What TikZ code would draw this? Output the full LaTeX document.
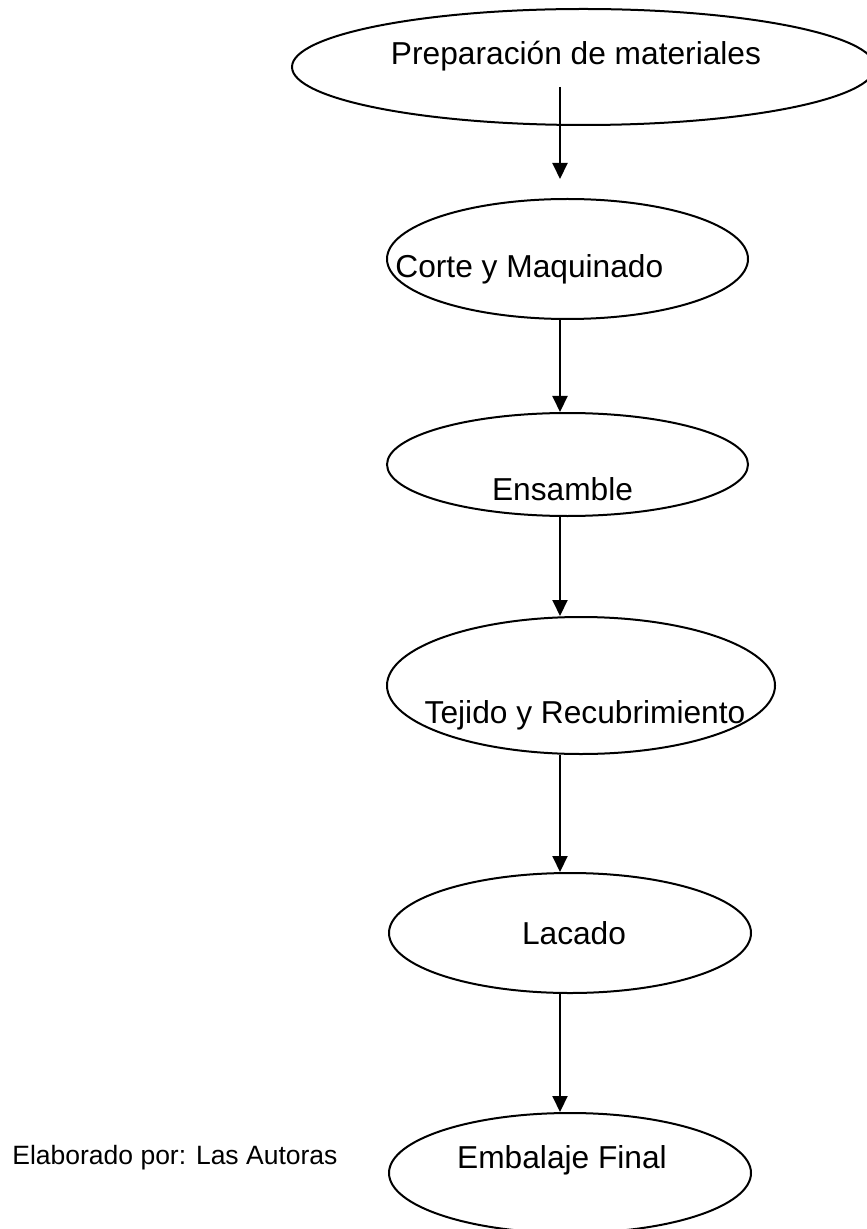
\documentclass[tikz,border=0pt]{standalone}
\usepackage{fontspec}
\setmainfont{Liberation Sans}
\usepackage{tikz}
\usetikzlibrary{arrows.meta}
\usetikzlibrary{shapes.geometric}
\tikzstyle{stage}=[ellipse, draw=black, line width=1pt, inner sep=0pt]
\tikzstyle{stagetext}=[inner sep=0pt, anchor=base, font=\fontsize{15.85}{19}\selectfont]
\tikzstyle{flow}=[draw=black, line width=1pt, -{Triangle[length=8pt, width=7.5pt]}]

\begin{document}
\begin{tikzpicture}[x=0.5pt, y=-0.5pt]
		   \useasboundingbox (0,0) rectangle (866,1229);
		   \begin{scope}
			   \node (prep) at (583.5, 67)[stage, minimum width=291.5pt, minimum height=58pt] {};
			   \node (corte) at (567.5, 259)[stage, minimum width=180.5pt, minimum height=60pt] {};
			   \node (ensamble) at (567.5, 464.5)[stage, minimum width=180.5pt, minimum height=51.5pt] {};
			   \node (tejido) at (581, 685.5)[stage, minimum width=194pt, minimum height=68.5pt] {};
			   \node (lacado) at (570, 933)[stage, minimum width=181pt, minimum height=60pt] {};
			   \node (embalaje) at (570, 1173)[stage, minimum width=181pt, minimum height=60pt] {};
		   \end{scope}
		   \begin{scope}
			   \node (prepText) at (576, 65)[stagetext] {Preparación de materiales};
			   \node (corteText) at (395, 278)[stagetext, anchor=base west] {Corte y Maquinado};
			   \node (ensambleText) at (562.5, 500)[stagetext] {Ensamble};
			   \node (tejidoText) at (585, 723)[stagetext] {Tejido y Recubrimiento};
			   \node (lacadoText) at (574, 944)[stagetext] {Lacado};
			   \node (embalajeText) at (562, 1168)[stagetext] {Embalaje Final};
			   \node (autoras) at (12, 1164)[inner sep=0pt, anchor=base west, font=\fontsize{13.25}{16}\selectfont] {Elaborado por: Las Autoras};
		   \end{scope}
		   \begin{scope}
			   \coordinate (axis) at (560, 0);
			   \coordinate (prepOut) at (560, 87);
			   \coordinate (corteIn) at (560, 179);
			   \draw [flow] (prepOut) -- (corteIn);
			   \draw [flow] (corte.south -| axis) -- (ensamble.north -| axis);
			   \draw [flow] (ensamble.south -| axis) -- (tejido.north -| axis);
			   \draw [flow] (tejido.south -| axis) -- (lacado.north -| axis);
			   \draw [flow] (lacado.south -| axis) -- (embalaje.north -| axis);
		   \end{scope}
	   \end{tikzpicture}
\end{document}
